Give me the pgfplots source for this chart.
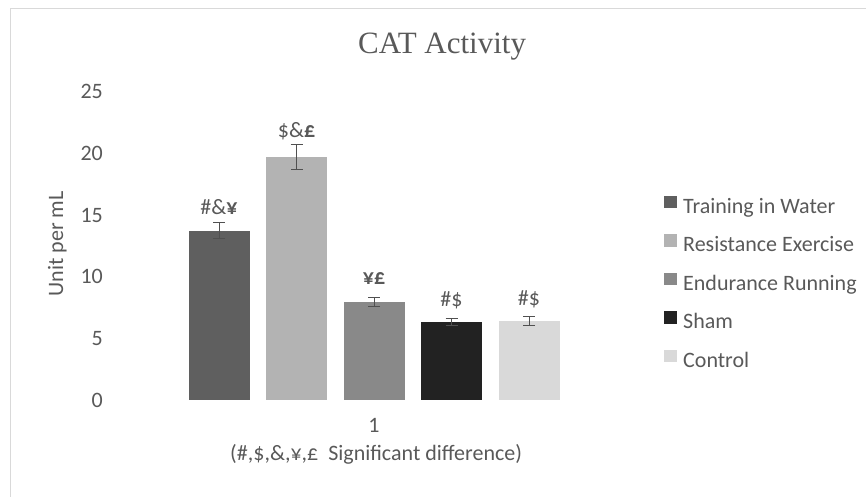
\documentclass[border=0pt]{standalone}
\usepackage{pgfplots}
\pgfplotsset{compat=1.18}
\usepackage{fontspec}
\setmainfont{Carlito}
\newfontfamily\titlefont{Liberation Serif}
\definecolor{txt}{HTML}{595959}
\definecolor{cTW}{HTML}{5F5F5F}
\definecolor{cRE}{HTML}{B3B3B3}
\definecolor{cEN}{HTML}{898989}
\definecolor{cSH}{HTML}{222222}
\definecolor{cCO}{HTML}{D9D9D9}
\definecolor{errc}{HTML}{505050}
\begin{document}
\begin{tikzpicture}[x=1pt,y=1pt]
\useasboundingbox (0,0) rectangle (866,496);
\draw[draw=black!15, line width=1.5pt] (10.5,-20) rectangle (900,487.5);
\begin{axis}[
  at={(110pt,96pt)}, anchor=south west,
  scale only axis, width=528pt, height=308.3pt,
  xmin=0, xmax=2, ymin=0, ymax=25,
  ybar=16.5pt, bar width=61pt,
  axis line style={draw=none}, major tick length=0pt,
  xtick={1}, xticklabels={1},
  ytick={0,5,10,15,20,25},
  /pgf/number format/assume math mode=true,
  tick label style={font=\fontsize{22}{26}\selectfont, text=txt, inner sep=0pt},
  xticklabel style={anchor=base, yshift=-32pt},
  yticklabel style={anchor=east, xshift=-7pt},
  title={\titlefont\fontsize{31}{36}\selectfont CAT Activity},
  title style={at={(axis description cs:0.629,1.103)}, anchor=base, inner sep=0pt, text=txt},
  ylabel={Unit per mL},
  ylabel style={at={(axis description cs:-0.089,0.507)}, rotate=0, anchor=base, inner sep=0pt, text=txt, font=\fontsize{22}{26}\selectfont},
  xlabel={(\#,\$,\&,¥,£\ \ Significant difference)},
  xlabel style={at={(axis description cs:0.504,-0.195)}, anchor=base, inner sep=0pt, text=txt, font=\fontsize{22}{26}\selectfont},
  legend image code/.code={\fill[#1] (0pt,0pt) rectangle (13pt,12.5pt);},
  legend cell align=left,
  legend style={at={(rel axis cs:1.0492,0.3756)}, anchor=west, draw=none, fill=none,
    inner sep=0pt, row sep=16pt, font=\fontsize{22}{26}\selectfont, text=txt,
    nodes={inner sep=0pt, text height=15pt, text depth=5pt},
    /tikz/every odd column/.append style={column sep=6pt}},
  error bars/y dir=both, error bars/y explicit,
  error bars/error mark=-,
  error bars/error mark options={rotate=90, mark size=6pt, line width=0.8pt, errc},
  error bars/error bar style={line width=0.8pt, errc},
  nodes near coords style={anchor=base, font=\fontsize{22}{26}\selectfont, text=txt, inner sep=0pt},
]
\addplot[fill=cTW, draw=none, nodes near coords={\#\&\textbf{¥}}, nodes near coords style={yshift=16pt}]
  coordinates {(1,13.74) +- (0,0.65)};
\addplot[fill=cRE, draw=none, nodes near coords={\$\&\textbf{£}}, nodes near coords style={yshift=20pt}]
  coordinates {(1,19.7) +- (0,1.0)};
\addplot[fill=cEN, draw=none, nodes near coords={\textbf{¥£}}, nodes near coords style={yshift=18pt}]
  coordinates {(1,7.93) +- (0,0.37)};
\addplot[fill=cSH, draw=none, nodes near coords={\#\$}, nodes near coords style={yshift=15pt}]
  coordinates {(1,6.34) +- (0,0.3)};
\addplot[fill=cCO, draw=none, nodes near coords={\#\$}, nodes near coords style={yshift=15pt}]
  coordinates {(1,6.42) +- (0,0.33)};
\legend{Training in Water, Resistance Exercise, Endurance Running, Sham, Control}
\end{axis}
\end{tikzpicture}
\end{document}
